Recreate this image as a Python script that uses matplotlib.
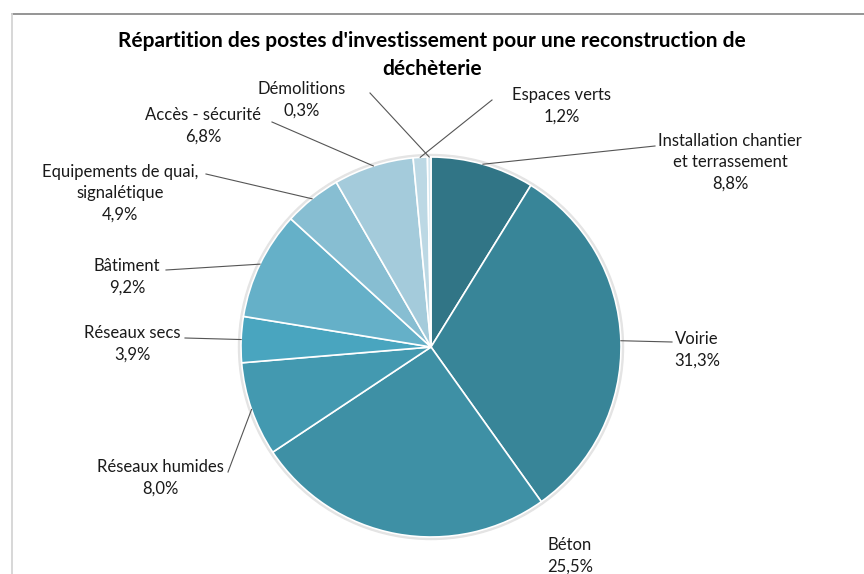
import matplotlib.pyplot as plt
import numpy as np
from matplotlib.lines import Line2D
from matplotlib.patches import Circle

plt.rcParams['font.family'] = ['Lato', 'DejaVu Sans']

title = "Répartition des postes d'investissement pour une reconstruction de\ndéchèterie"
labels = ["Installation chantier\net terrassement", "Voirie", "Béton", "Réseaux humides",
          "Réseaux secs", "Bâtiment", "Equipements de quai,\nsignalétique", "Accès - sécurité",
          "Espaces verts", "Démolitions"]
shares = [8.8, 31.3, 25.5, 8.0, 3.9, 9.2, 4.9, 6.8, 1.2, 0.3]
colors = ["#317586", "#388598", "#3e90a5", "#4399b0", "#49a5bf",
          "#65b0c8", "#87bed2", "#a4cbdb", "#bcd8e4", "#d5e7ef"]

# label layout, in pixels from top-left: text centre, leader start
W, H = 864, 574
CX, CY, R = 431, 347, 190
text_pos = [(730, 162), (697, 350), (570, 556), (160, 478), (132, 344),
            (127, 277), (120, 193), (203, 126), (562, 106), (302, 100)]
leader_start = [(655, 146), (672, 342), None, (228, 472), (185, 338),
                (166, 270), (206, 174), (272, 122), (492, 100), (370, 93)]

fig = plt.figure(figsize=(W / 100, H / 100), dpi=100)
ax = fig.add_axes([0, 0, 1, 1])

ax.add_patch(Circle((CX, H - CY), R + 2.5, color="#e4e4e4", zorder=0))
wedges, _ = ax.pie(shares, colors=colors, startangle=90, counterclock=False,
                   center=(CX, H - CY), radius=R,
                   wedgeprops=dict(edgecolor="white", linewidth=1.2))
ax.set_xlim(0, W)
ax.set_ylim(0, H)
ax.set_aspect("equal")
ax.axis("off")

for w, lab, val, tp, ls in zip(wedges, labels, shares, text_pos, leader_start):
    ax.text(tp[0], H - tp[1], "{}\n{}%".format(lab, str(val).replace(".", ",")),
            ha="center", va="center", fontsize=12, linespacing=1.4, color="#1a1a1a")
    if ls is None:
        continue
    mid = np.deg2rad((w.theta1 + w.theta2) / 2)
    ex, ey = CX + R * np.cos(mid), (H - CY) + R * np.sin(mid)
    ax.plot([ls[0], ex], [H - ls[1], ey], color="#555555", lw=0.8, zorder=5)

fig.text(432 / W, 1 - 55 / H, title, ha="center", va="center", fontsize=15,
         fontweight="bold", linespacing=1.44)

# chart frame (cropped)
fig.add_artist(Line2D([12 / W, 1], [1 - 14 / H, 1 - 14 / H], color="#8c8c8c", lw=1.3))
fig.add_artist(Line2D([12 / W, 12 / W], [0, 1 - 14 / H], color="#d4d4d4", lw=1.3))

plt.savefig("out.png", dpi=100)
